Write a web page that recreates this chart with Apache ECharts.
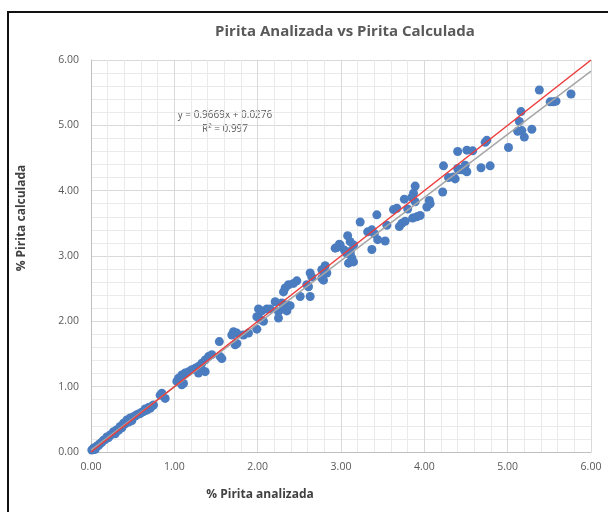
<!DOCTYPE html>
<html>
<head>
<meta charset="utf-8">
<script src="https://cdn.jsdelivr.net/npm/echarts@6/dist/echarts.min.js"></script>
<style>
  html, body { margin: 0; padding: 0; background: #fff; }
  #chart { width: 608px; height: 512px; }
</style>
</head>
<body>
<div id="chart"></div>
<script>
// % Pirita analizada (x) vs % Pirita calculada (y)
var analizada = [
  0.01, 0.03, 0.07, 0.11, 0.15, 0.19, 0.23, 0.27, 0.31, 0.35, 0.39, 0.43, 0.47, 0.51, 0.55, 0.59, 0.63, 0.67, 0.71, 0.75,
  0.05, 0.09, 0.13, 0.17, 0.21, 0.25, 0.29, 0.33, 0.37, 0.41, 0.45, 0.49, 0.53, 0.57, 0.61, 0.65, 0.69, 0.73,
  0.85, 0.83, 0.89, 1.05, 1.03, 1.09, 1.11,
  1.09, 1.13, 1.17, 1.21, 1.25, 1.29, 1.33, 1.37, 1.41, 1.45, 1.33, 1.37, 1.29, 1.57, 1.55, 1.73, 1.75,
  1.54, 1.71, 1.75, 1.83, 1.89, 1.99, 1.69, 1.99, 2.03, 2.07, 2.01, 2.05, 2.11, 2.15,
  2.21, 2.29, 2.35, 2.39, 2.31, 2.25, 2.35, 2.25, 2.51, 2.63,
  2.47, 2.43, 2.37, 2.33, 2.31, 2.59, 2.61, 2.77, 2.79, 2.63, 2.65, 2.81, 2.77, 2.83,
  2.95, 2.99, 3.04, 3.11, 3.13, 3.09, 3.15,
  3.08, 2.98, 2.93, 3.11, 3.15, 3.11, 3.07, 3.37, 3.53, 3.32, 3.37, 3.40, 3.44, 3.23, 3.55, 3.43, 3.63, 3.67,
  3.70, 3.73, 3.77, 3.86, 3.91, 3.95, 4.06, 4.07, 4.03, 3.89, 3.76, 3.80, 3.87, 3.85, 3.89, 4.22,
  4.29, 4.37, 4.40, 4.45, 4.49, 4.51, 4.23, 4.35, 4.41, 4.47, 4.68, 4.79,
  4.40, 4.51, 4.58, 4.73, 4.75, 5.01, 5.20, 5.29, 5.12, 5.17, 5.14, 5.16, 5.51, 5.55, 5.58, 5.38, 5.76
];
var calculada = [
  0.03, 0.06, 0.09, 0.13, 0.18, 0.23, 0.26, 0.31, 0.34, 0.39, 0.44, 0.49, 0.52, 0.54, 0.57, 0.59, 0.62, 0.64, 0.67, 0.72,
  0.04, 0.10, 0.15, 0.19, 0.22, 0.27, 0.28, 0.33, 0.37, 0.43, 0.46, 0.48, 0.55, 0.58, 0.61, 0.66, 0.68, 0.70,
  0.90, 0.87, 0.82, 1.13, 1.08, 1.03, 1.05,
  1.18, 1.21, 1.23, 1.26, 1.28, 1.31, 1.36, 1.41, 1.46, 1.49, 1.26, 1.23, 1.21, 1.43, 1.46, 1.64, 1.66,
  1.69, 1.84, 1.82, 1.79, 1.82, 1.88, 1.79, 2.07, 2.03, 2.00, 2.19, 2.16, 2.19, 2.19,
  2.30, 2.28, 2.25, 2.24, 2.19, 2.15, 2.16, 2.05, 2.38, 2.38,
  2.62, 2.58, 2.56, 2.51, 2.45, 2.56, 2.53, 2.66, 2.63, 2.74, 2.68, 2.85, 2.79, 2.74,
  3.13, 3.17, 3.09, 3.04, 2.97, 2.89, 2.91,
  3.31, 3.18, 3.12, 3.22, 3.17, 3.07, 3.04, 3.10, 3.23, 3.37, 3.40, 3.34, 3.25, 3.52, 3.47, 3.63, 3.71, 3.73,
  3.45, 3.50, 3.53, 3.58, 3.60, 3.62, 3.85, 3.80, 3.75, 4.07, 3.87, 3.72, 3.96, 3.90, 3.83, 3.98,
  4.20, 4.18, 4.34, 4.32, 4.39, 4.29, 4.38, 4.21, 4.32, 4.32, 4.35, 4.38,
  4.60, 4.62, 4.61, 4.74, 4.77, 4.66, 4.82, 4.94, 4.91, 4.92, 5.06, 5.21, 5.36, 5.36, 5.37, 5.54, 5.48
];
// trend lines: identity (red) and fitted line y = 0.9669x + 0.0276 (gray), end points
var identityLine = [[0, 0], [6, 6]];
var fitLine = [[0, 0.0276], [6, 5.829]];
var axisTicks = ['0.00', '1.00', '2.00', '3.00', '4.00', '5.00', '6.00'];

var points = analizada.map(function (x, i) { return [x, calculada[i]]; });

var chart = echarts.init(document.getElementById('chart'));
var gridLine = { lineStyle: { color: '#d9d9d9', width: 1 } };
var minorLine = { show: true, lineStyle: { color: '#eaeaea', width: 1 } };
var labelStyle = {
  color: '#595959', fontSize: 10.5, fontFamily: 'Open Sans',
  formatter: function (v) { return axisTicks[Math.round(v)]; }
};

chart.setOption({
  animation: false,
  backgroundColor: '#fff',
  title: {
    text: 'Pirita Analizada vs Pirita Calculada',
    left: 340, top: 19, textAlign: 'center',
    textStyle: { color: '#595959', fontSize: 15, fontWeight: 'bold', fontFamily: 'Open Sans' }
  },
  grid: { left: 91, right: 17, top: 60, bottom: 60 },
  xAxis: {
    type: 'value', min: 0, max: 6, interval: 1,
    axisLine: { show: true, lineStyle: { color: '#bfbfbf' } },
    axisTick: { show: false },
    axisLabel: Object.assign({ margin: 10 }, labelStyle),
    splitLine: gridLine,
    minorTick: { show: false, splitNumber: 5 },
    minorSplitLine: minorLine
  },
  yAxis: {
    type: 'value', min: 0, max: 6, interval: 1,
    axisLine: { show: true, lineStyle: { color: '#bfbfbf' } },
    axisTick: { show: false },
    axisLabel: Object.assign({ margin: 12 }, labelStyle),
    splitLine: gridLine,
    minorTick: { show: false, splitNumber: 5 },
    minorSplitLine: minorLine
  },
  graphic: [
    { type: 'rect', shape: { x: 8, y: 12, width: 606, height: 520 },
      style: { fill: 'none', stroke: '#111', lineWidth: 2 }, silent: true },
    { type: 'text', x: 260, y: 495,
      style: { text: '% Pirita analizada', fill: '#404040', font: 'bold 12px "Open Sans"', textAlign: 'center', textVerticalAlign: 'middle' } },
    { type: 'text', x: 22, y: 218, rotation: Math.PI / 2,
      style: { text: '% Pirita calculada', fill: '#404040', font: 'bold 12px "Open Sans"', textAlign: 'center', textVerticalAlign: 'middle' } },
    { type: 'text', x: 225, y: 115,
      style: { text: 'y = 0.9669x + 0.0276', fill: '#595959', font: '10px "Open Sans"', textAlign: 'center', textVerticalAlign: 'middle' } },
    { type: 'text', x: 225, y: 129,
      style: { text: 'R² = 0.997', fill: '#595959', font: '10px "Open Sans"', textAlign: 'center', textVerticalAlign: 'middle' } }
  ],
  series: [
    {
      type: 'scatter', data: points, symbolSize: 9, z: 2,
      itemStyle: { color: '#4a7cbf', opacity: 1 }
    },
    {
      type: 'line', data: fitLine, symbol: 'none', z: 3,
      lineStyle: { color: '#a6a6a6', width: 1.5 }
    },
    {
      type: 'line', data: identityLine, symbol: 'none', z: 4,
      lineStyle: { color: '#ee3b3b', width: 1.5 }
    }
  ]
});
</script>
</body>
</html>
